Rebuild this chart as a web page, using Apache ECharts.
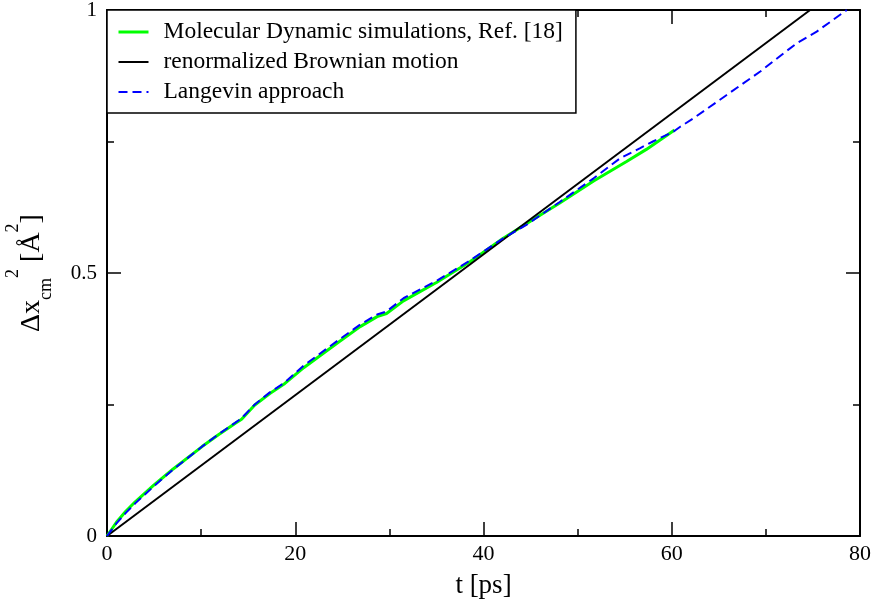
<!DOCTYPE html>
<html>
<head>
<meta charset="utf-8">
<script src="https://cdn.jsdelivr.net/npm/echarts@6/dist/echarts.min.js"></script>
<style>html,body{margin:0;padding:0;background:#fff}#c{width:873px;height:607px}</style>
</head>
<body>
<div id="c"></div>
<script>
// Molecular Dynamic simulations (green)
const mdT = [0, 1.0, 2.0, 3.0, 5.0, 7.0, 10.1, 11.8, 13.6, 14.3, 15.7, 17.3, 18.9, 20.9, 24.4, 26.9, 28.7, 29.7, 31.5, 35.0, 38.6, 42.1, 44.6, 48.1, 51.7, 55.2, 57.3, 60.3];
const mdV = [0, 0.026, 0.047, 0.065, 0.097, 0.127, 0.170, 0.192, 0.214, 0.222, 0.249, 0.271, 0.290, 0.320, 0.366, 0.398, 0.417, 0.423, 0.447, 0.482, 0.522, 0.566, 0.594, 0.633, 0.675, 0.712, 0.735, 0.772];
// renormalized Brownian motion (black)
const brT = [0, 74.7];
const brV = [0, 1.0];
// Langevin approach (blue dashed)
const lgT = [0, 1.0, 2.0, 3.0, 5.0, 7.0, 10.1, 11.8, 13.6, 14.3, 15.7, 17.3, 18.9, 20.9, 24.4, 26.9, 28.7, 29.7, 31.5, 35.0, 38.6, 42.1, 44.6, 48.1, 51.7, 54.5, 56.6, 58.0, 60.2, 60.9, 62.3, 65.8, 69.4, 71.9, 73.3, 75.4, 78.6];
const lgV = [0, 0.024, 0.044, 0.062, 0.095, 0.126, 0.170, 0.193, 0.215, 0.224, 0.250, 0.273, 0.292, 0.324, 0.370, 0.402, 0.421, 0.427, 0.452, 0.485, 0.524, 0.566, 0.592, 0.635, 0.680, 0.718, 0.737, 0.750, 0.769, 0.778, 0.794, 0.838, 0.883, 0.918, 0.937, 0.959, 1.0];
const xTicks = [0, 20, 40, 60, 80];
const yTicks = [0, 0.5, 1];
const names = ['Molecular Dynamic simulations, Ref. [18]', 'renormalized Brownian motion', 'Langevin approach'];

const zip = (a, b) => a.map((v, i) => [v, b[i]]);
const FONT = 'Liberation Serif';
const axCommon = {
  axisLine: { show: true, onZero: false, lineStyle: { color: '#000', width: 2 } },
  axisTick: { show: true, inside: true, length: 14, lineStyle: { color: '#000', width: 1.5 } },
  minorTick: { show: true, splitNumber: 2, length: 7, lineStyle: { color: '#000', width: 1.5 } },
  splitLine: { show: false },
  minorSplitLine: { show: false }
};
const chart = echarts.init(document.getElementById('c'));
chart.setOption({
  animation: false,
  backgroundColor: '#fff',
  grid: { left: 107, right: 13, top: 10, bottom: 71, containLabel: false, outerBoundsMode: 'none' },
  legend: {
    orient: 'vertical', left: 107, top: 10,
    data: [
      { name: names[0], lineStyle: { width: 3 } },
      { name: names[1], lineStyle: { width: 2 } },
      { name: names[2], lineStyle: { width: 2, type: [9, 5] } }
    ],
    itemWidth: 30, itemHeight: 14, itemGap: 0,
    padding: [7, 13, 6, 10],
    itemStyle: { opacity: 0 },
    borderColor: '#000', borderWidth: 1.5, backgroundColor: '#fff',
    textStyle: { fontFamily: FONT, fontSize: 23.5, color: '#000', lineHeight: 30, padding: [0, 0, 0, 10] }
  },
  xAxis: [
    Object.assign({}, axCommon, {
      type: 'value', min: 0, max: 80, interval: 20, position: 'bottom',
      name: 't [ps]', nameLocation: 'middle', nameGap: 36,
      nameTextStyle: { fontFamily: FONT, fontSize: 27, color: '#000' },
      axisLabel: { fontFamily: FONT, fontSize: 22, color: '#000', margin: 7,
        formatter: v => xTicks.includes(v) ? String(v) : '' }
    }),
    Object.assign({}, axCommon, {
      type: 'value', min: 0, max: 80, interval: 20, position: 'top',
      axisLabel: { show: false }
    })
  ],
  yAxis: [
    Object.assign({}, axCommon, {
      type: 'value', min: 0, max: 1, interval: 0.5, position: 'left',
      name: '{m|Δx}{sub|cm}{sup|2}{m| [Å}{sup|2}{m|]}',
      nameLocation: 'middle', nameRotate: 90, nameGap: 43,
      nameTextStyle: {
        fontFamily: FONT, color: '#000',
        rich: {
          m: { fontFamily: FONT, fontSize: 28, lineHeight: 56, verticalAlign: 'middle', color: '#000' },
          sub: { fontFamily: FONT, fontSize: 18, lineHeight: 18, verticalAlign: 'bottom', padding: [0, 0, 5, 0], color: '#000' },
          sup: { fontFamily: FONT, fontSize: 18, lineHeight: 18, verticalAlign: 'top', color: '#000' }
        }
      },
      axisLabel: { fontFamily: FONT, fontSize: 21, color: '#000', margin: 10,
        formatter: v => yTicks.includes(v) ? String(v) : '' }
    }),
    Object.assign({}, axCommon, {
      type: 'value', min: 0, max: 1, interval: 0.5, position: 'right',
      axisLabel: { show: false }
    })
  ],
  series: [
    { name: names[0], type: 'line', data: zip(mdT, mdV), symbol: 'none', showSymbol: false,
      lineStyle: { color: '#00ff00', width: 3 }, itemStyle: { color: '#00ff00' }, z: 2 },
    { name: names[1], type: 'line', data: zip(brT, brV), symbol: 'none', showSymbol: false,
      lineStyle: { color: '#000', width: 2 }, itemStyle: { color: '#000' }, z: 3 },
    { name: names[2], type: 'line', data: zip(lgT, lgV), symbol: 'none', showSymbol: false,
      lineStyle: { color: '#0000ff', width: 2, type: [9, 5] }, itemStyle: { color: '#0000ff' }, z: 4 }
  ]
});
</script>
</body>
</html>
